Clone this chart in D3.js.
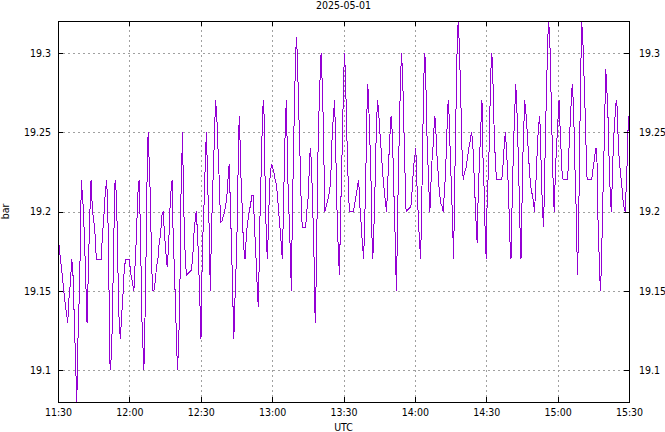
<!DOCTYPE html>
<html>
<head>
<meta charset="utf-8">
<script src="https://cdn.jsdelivr.net/npm/d3@7"></script>
<style>
  html, body { margin: 0; padding: 0; background: #ffffff; }
  svg { display: block; }
  text { font-family: "DejaVu Sans Condensed", "DejaVu Sans", sans-serif; font-stretch: condensed; font-size: 10.5px; fill: #000; }
</style>
</head>
<body>
<svg id="chart" width="665" height="432"></svg>
<script>
// ---------------- data (minutes after 11:30 UTC, pressure in bar) ----------------
const title = "2025-05-01";
const xTitle = "UTC";
const yTitle = "bar";
const startTime = "2025-05-01T11:30:00Z";
const endTime = "2025-05-01T15:30:00Z";
const xTickLabels = ["11:30", "12:00", "12:30", "13:00", "13:30", "14:00", "14:30", "15:00", "15:30"];
const yTickValues = [19.1, 19.15, 19.2, 19.25, 19.3];
const yDomain = [19.08, 19.32];

const minutes = [
  0, 1.0, 1.8, 2.4, 3.2, 4.1, 4.6, 5.2, 5.8, 6.3, 6.9, 7.4, 7.9, 8.4, 9.0, 9.4, 9.8, 10.5, 11.1, 11.7,
  12.2, 12.8, 13.3, 13.9, 14.5, 15.0, 15.6, 16.1, 18.1, 18.7, 19.2, 19.8, 20.4, 20.9, 21.5, 21.9, 22.5, 22.9,
  23.4, 24.0, 24.6, 25.1, 25.7, 26.2, 26.8, 27.4, 27.9, 28.5, 29.9, 30.7, 31.3, 31.9, 32.4, 33.0, 33.5, 34.1,
  34.7, 35.2, 36.1, 36.6, 37.2, 37.5, 37.9, 38.6, 39.2, 39.7, 40.3, 40.8, 41.4, 42.0, 42.5, 43.1, 43.6, 44.2,
  44.8, 45.3, 45.9, 46.5, 47.0, 47.6, 48.0, 48.4, 49.0, 49.5, 50.0, 50.2, 50.7, 51.2, 51.6, 52.1, 52.3, 52.9,
  53.5, 54.0, 56.0, 56.6, 57.1, 57.7, 58.1, 58.7, 59.2, 59.6, 60.1, 60.5, 61.0, 61.6, 62.0, 62.4, 63.0, 63.6,
  64.0, 64.5, 65.0, 65.5, 66.0, 66.2, 66.7, 67.1, 67.5, 67.9, 68.3, 68.9, 69.5, 70.0, 70.6, 71.1, 71.7, 72.0,
  72.5, 73.0, 73.4, 73.9, 74.5, 74.9, 75.3, 75.6, 75.9, 76.2, 76.6, 77.0, 77.5, 77.9, 78.3, 78.6, 79.3, 79.8,
  80.4, 81.0, 81.5, 82.1, 82.6, 83.2, 83.8, 84.2, 84.6, 85.0, 85.5, 85.9, 86.3, 86.7, 87.1, 87.6, 88.0, 88.4,
  88.8, 89.2, 89.8, 90.2, 90.8, 91.3, 91.9, 92.5, 93.0, 93.6, 94.0, 94.3, 94.7, 95.1, 95.6, 96.0, 96.4, 96.8,
  97.4, 97.8, 98.1, 98.5, 98.9, 99.3, 99.8, 100.2, 100.6, 101.0, 101.4, 101.9, 102.3, 102.7, 104.1, 104.5,
  105.0, 105.4, 105.8, 106.2, 106.6, 107.1, 107.3, 107.8, 107.9, 108.2, 108.6, 109.0, 109.4, 109.9, 110.3,
  110.6, 111.0, 111.4, 111.7, 112.0, 112.2, 112.7, 113.2, 113.8, 114.4, 114.9, 115.3, 115.8, 116.2, 116.6,
  117.0, 117.4, 117.9, 118.3, 118.8, 119.3, 119.7, 120.1, 120.4, 120.8, 121.2, 121.6, 122.1, 122.5, 124.2,
  124.7, 125.3, 125.9, 126.4, 126.8, 127.3, 127.7, 128.1, 128.4, 128.8, 129.2, 129.6, 129.9, 130.2, 130.6,
  131.0, 131.5, 131.7, 132.0, 132.3, 132.7, 133.2, 133.6, 134.0, 134.3, 134.7, 135.1, 135.5, 136.0, 136.4,
  136.8, 137.2, 137.6, 138.1, 138.5, 138.9, 139.3, 139.7, 140.0, 140.4, 140.9, 141.3, 141.7, 142.0, 142.3,
  142.7, 143.1, 143.5, 144.0, 144.4, 144.8, 145.2, 145.6, 146.1, 146.3, 148.3, 148.7, 149.1, 149.6, 150.0,
  150.4, 150.8, 151.2, 151.7, 152.1, 152.4, 152.8, 153.1, 153.4, 153.6, 153.9, 154.2, 154.6, 155.0, 155.5,
  155.9, 156.3, 156.7, 157.1, 157.6, 158.0, 158.4, 158.8, 159.2, 159.7, 160.1, 160.5, 160.9, 161.5, 161.9,
  162.3, 162.8, 163.2, 163.6, 164.0, 164.4, 164.9, 165.3, 165.7, 166.0, 166.3, 166.7, 167.1, 167.4, 167.8,
  168.2, 168.6, 169.1, 169.5, 169.9, 170.3, 170.8, 171.2, 171.6, 172.2, 172.7, 173.3, 173.8, 174.3, 174.7,
  175.1, 175.5, 175.9, 176.2, 176.6, 177.1, 177.5, 177.9, 178.2, 178.6, 179.0, 179.3, 179.7, 180.0, 180.4,
  180.9, 181.3, 181.7, 182.0, 182.3, 182.7, 183.1, 183.5, 183.9, 184.4, 186.5, 186.9, 187.3, 187.7, 188.1,
  188.6, 189.0, 189.4, 189.7, 190.0, 190.4, 190.8, 191.2, 191.7, 192.1, 192.4, 192.8, 193.2, 193.6, 194.0,
  194.3, 194.6, 195.0, 195.4, 195.9, 196.1, 196.6, 197.0, 197.4, 197.8, 198.2, 198.7, 199.1, 199.5, 199.9,
  200.3, 200.8, 201.2, 201.6, 202.0, 202.5, 202.9, 203.3, 203.7, 204.1, 204.6, 205.0, 205.4, 205.8, 206.2,
  206.7, 207.1, 207.5, 207.9, 208.3, 208.6, 209.0, 209.5, 209.9, 210.3, 210.6, 211.0, 211.4, 211.8, 212.3,
  214.2, 214.7, 215.1, 215.5, 215.9, 216.2, 216.6, 217.0, 217.4, 217.9, 218.2, 218.4, 218.9, 219.3, 219.6,
  219.9, 220.1, 220.6, 221.0, 221.4, 221.8, 222.1, 222.4, 224.3, 224.8, 225.2, 225.6, 226.0, 226.5, 226.7,
  227.2, 227.6, 228.0, 228.4, 228.8, 229.3, 229.7, 230.0, 230.2, 230.7, 231.1, 231.5, 231.9, 232.3, 232.6,
  233.0, 233.4, 233.9, 234.3, 234.6, 235.0, 235.4, 235.8, 236.3, 236.7, 237.1, 237.5, 237.9, 238.4, 238.8,
  239.2, 239.6, 240.0
];

const pressure = [
  19.186, 19.17, 19.16, 19.15, 19.14, 19.13, 19.145, 19.155, 19.17, 19.16, 19.13, 19.105, 19.08, 19.12, 19.15, 19.18, 19.22, 19.205, 19.185, 19.155,
  19.13, 19.165, 19.195, 19.22, 19.20, 19.195, 19.185, 19.17, 19.17, 19.185, 19.195, 19.21, 19.22, 19.205, 19.145, 19.10, 19.11, 19.135,
  19.18, 19.22, 19.21, 19.17, 19.13, 19.12, 19.135, 19.15, 19.165, 19.17, 19.17, 19.16, 19.155, 19.15, 19.167, 19.185, 19.21, 19.22,
  19.185, 19.135, 19.10, 19.135, 19.19, 19.23, 19.25, 19.22, 19.18, 19.15, 19.15, 19.155, 19.165, 19.17, 19.18, 19.185, 19.197, 19.20,
  19.185, 19.175, 19.165, 19.178, 19.20, 19.215, 19.22, 19.185, 19.16, 19.135, 19.11, 19.10, 19.115, 19.145, 19.205, 19.235, 19.25, 19.20,
  19.17, 19.16, 19.163, 19.17, 19.185, 19.195, 19.20, 19.185, 19.163, 19.145, 19.12, 19.16, 19.19, 19.213, 19.237, 19.25, 19.213, 19.187,
  19.15, 19.187, 19.213, 19.235, 19.26, 19.27, 19.262, 19.245, 19.23, 19.215, 19.193, 19.194, 19.197, 19.20, 19.205, 19.212, 19.226, 19.23,
  19.20, 19.176, 19.15, 19.12, 19.15, 19.167, 19.19, 19.217, 19.245, 19.26, 19.24, 19.217, 19.20, 19.18, 19.174, 19.17, 19.188, 19.194,
  19.20, 19.205, 19.21, 19.21, 19.19, 19.172, 19.15, 19.14, 19.17, 19.205, 19.23, 19.258, 19.27, 19.258, 19.212, 19.182, 19.17, 19.188,
  19.21, 19.224, 19.23, 19.228, 19.224, 19.22, 19.216, 19.205, 19.195, 19.185, 19.175, 19.17, 19.197, 19.226, 19.258, 19.27, 19.235, 19.21,
  19.187, 19.165, 19.15, 19.199, 19.23, 19.262, 19.294, 19.31, 19.298, 19.275, 19.252, 19.226, 19.20, 19.19, 19.19, 19.20,
  19.205, 19.218, 19.235, 19.24, 19.224, 19.205, 19.185, 19.163, 19.14, 19.13, 19.167, 19.21, 19.248, 19.273, 19.29,
  19.30, 19.283, 19.262, 19.238, 19.214, 19.20, 19.203, 19.206, 19.21, 19.216, 19.23, 19.252, 19.26, 19.27, 19.252,
  19.218, 19.193, 19.172, 19.16, 19.20, 19.23, 19.258, 19.285, 19.30, 19.287, 19.262, 19.237, 19.212, 19.20, 19.20,
  19.205, 19.21, 19.216, 19.22, 19.205, 19.195, 19.185, 19.178, 19.17, 19.185, 19.212, 19.24, 19.266, 19.28, 19.268,
  19.248, 19.226, 19.203, 19.182, 19.17, 19.185, 19.212, 19.24, 19.26, 19.27, 19.264, 19.255, 19.245, 19.235, 19.226,
  19.218, 19.212, 19.206, 19.20, 19.214, 19.23, 19.24, 19.254, 19.26, 19.252, 19.23, 19.205, 19.185, 19.163, 19.15,
  19.195, 19.224, 19.254, 19.285, 19.30, 19.287, 19.266, 19.237, 19.212, 19.20, 19.203, 19.21, 19.22, 19.23, 19.235,
  19.24, 19.22, 19.205, 19.188, 19.178, 19.17, 19.197, 19.226, 19.252, 19.275, 19.29, 19.30, 19.283, 19.252, 19.23,
  19.214, 19.20, 19.216, 19.23, 19.24, 19.252, 19.26, 19.252, 19.237, 19.226, 19.216, 19.21, 19.205, 19.203, 19.20,
  19.21, 19.222, 19.237, 19.256, 19.27, 19.26, 19.235, 19.218, 19.20, 19.185, 19.17, 19.216, 19.245, 19.275, 19.306,
  19.32, 19.308, 19.283, 19.258, 19.233, 19.22, 19.224, 19.226, 19.228, 19.235, 19.24, 19.245, 19.25, 19.244, 19.23,
  19.216, 19.20, 19.188, 19.18, 19.21, 19.23, 19.245, 19.26, 19.27, 19.235, 19.22, 19.20, 19.18, 19.17, 19.21,
  19.224, 19.245, 19.275, 19.29, 19.30, 19.29, 19.262, 19.245, 19.228, 19.22, 19.22, 19.226, 19.235, 19.245, 19.25,
  19.235, 19.226, 19.21, 19.195, 19.18, 19.17, 19.20, 19.226, 19.252, 19.268, 19.28, 19.268, 19.25, 19.226, 19.203,
  19.182, 19.17, 19.203, 19.235, 19.258, 19.27, 19.264, 19.255, 19.245, 19.235, 19.224, 19.216, 19.212, 19.21, 19.205,
  19.20, 19.216, 19.23, 19.244, 19.254, 19.26, 19.24, 19.216, 19.20, 19.19, 19.226, 19.256, 19.28, 19.306, 19.32,
  19.31, 19.283, 19.258, 19.23, 19.207, 19.20, 19.222, 19.24, 19.25, 19.262, 19.27, 19.254, 19.24, 19.226, 19.22,
  19.22, 19.237, 19.25, 19.262, 19.275, 19.28, 19.268, 19.248, 19.22, 19.197, 19.17, 19.16, 19.20, 19.245, 19.277,
  19.302, 19.32, 19.308, 19.29, 19.27, 19.252, 19.23, 19.22, 19.22, 19.226, 19.23, 19.235, 19.24, 19.24, 19.207,
  19.185, 19.164, 19.15, 19.165, 19.193, 19.228, 19.248, 19.275, 19.29, 19.277, 19.264, 19.24, 19.22, 19.205, 19.20,
  19.222, 19.24, 19.256, 19.262, 19.27, 19.266, 19.248, 19.235, 19.226, 19.22, 19.214, 19.207, 19.203, 19.20, 19.214,
  19.23, 19.252, 19.26
];

// ---------------- layout ----------------
const W = 665, H = 432;
const margin = { left: 58, right: 36, top: 21, bottom: 30 };
const x0 = margin.left, x1 = W - margin.right, y0 = margin.top, y1 = H - margin.bottom;

const svg = d3.select("#chart");

const x = d3.scaleUtc()
  .domain([new Date(startTime), new Date(endTime)])
  .range([x0, x1]);
const y = d3.scaleLinear().domain(yDomain).range([y1, y0]);

const start = new Date(startTime).getTime();
const data = minutes.map((m, i) => ({ t: new Date(start + m * 60000), v: pressure[i] }));
const xTickDates = xTickLabels.map(s => new Date(`2025-05-01T${s}:00Z`));

// grid
const gridColor = "#a0a0a0";
svg.append("g")
  .attr("transform", `translate(0,${y1})`)
  .call(d3.axisBottom(x).tickValues(xTickDates).tickSize(-(y1 - y0)).tickFormat(""))
  .call(g => g.select(".domain").remove())
  .call(g => g.selectAll("line").attr("stroke", gridColor).attr("stroke-dasharray", "2,3").attr("shape-rendering", "crispEdges"));
svg.append("g")
  .attr("transform", `translate(${x0},0)`)
  .call(d3.axisLeft(y).tickValues(yTickValues).tickSize(-(x1 - x0)).tickFormat(""))
  .call(g => g.select(".domain").remove())
  .call(g => g.selectAll("line").attr("stroke", gridColor).attr("stroke-dasharray", "2,3").attr("shape-rendering", "crispEdges"));

// data line
const line = d3.line().x(d => x(d.t)).y(d => y(d.v));
svg.append("path")
  .datum(data)
  .attr("d", line)
  .attr("fill", "none")
  .attr("stroke", "#9400d3")
  .attr("stroke-width", 1)
  .attr("shape-rendering", "crispEdges");

// axes (ticks inward, mirrored)
const tickLen = 5;
function styleAxis(g) {
  g.select(".domain").remove();
  g.selectAll("line").attr("stroke", "#000").attr("shape-rendering", "crispEdges");
  g.selectAll("text").attr("font-family", null).attr("font-size", null);
}
const fmtY = d3.format("");
svg.append("g")
  .attr("transform", `translate(0,${y1})`)
  .call(d3.axisBottom(x).tickValues(xTickDates).tickSize(-tickLen).tickPadding(7)
    .tickFormat((d, i) => xTickLabels[i]))
  .call(styleAxis);
svg.append("g")
  .attr("transform", `translate(0,${y0})`)
  .call(d3.axisTop(x).tickValues(xTickDates).tickSize(-tickLen).tickFormat(""))
  .call(styleAxis);
svg.append("g")
  .attr("transform", `translate(${x0},0)`)
  .call(d3.axisLeft(y).tickValues(yTickValues).tickSize(-tickLen).tickPadding(7).tickFormat(fmtY))
  .call(styleAxis);
svg.append("g")
  .attr("transform", `translate(${x1},0)`)
  .call(d3.axisRight(y).tickValues(yTickValues).tickSize(-tickLen).tickPadding(10).tickFormat(fmtY))
  .call(styleAxis);

// frame
svg.append("rect")
  .attr("x", x0).attr("y", y0)
  .attr("width", x1 - x0).attr("height", y1 - y0)
  .attr("fill", "none").attr("stroke", "#000").attr("stroke-width", 1)
  .attr("shape-rendering", "crispEdges");

// titles
svg.append("text").attr("x", (x0 + x1) / 2).attr("y", 9).attr("text-anchor", "middle").text(title);
svg.append("text").attr("x", (x0 + x1) / 2).attr("y", 431).attr("text-anchor", "middle").text(xTitle);
svg.append("text").attr("transform", `translate(9,${(y0 + y1) / 2}) rotate(-90)`).attr("text-anchor", "middle").text(yTitle);
</script>
</body>
</html>
